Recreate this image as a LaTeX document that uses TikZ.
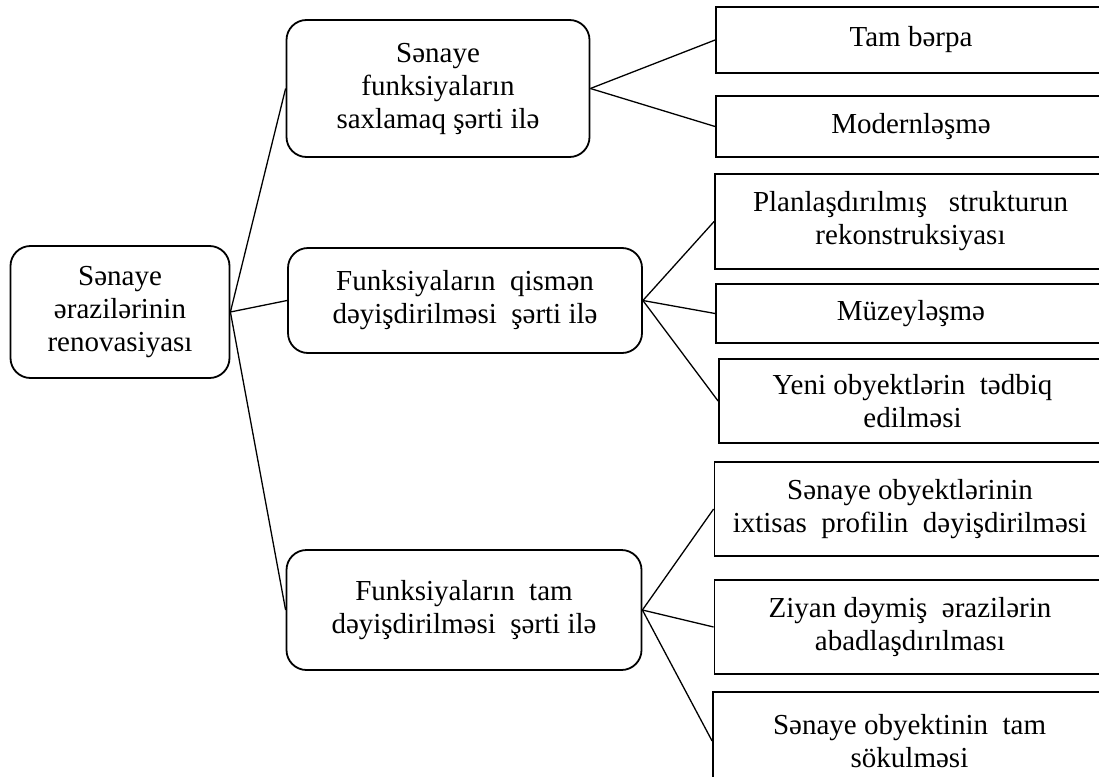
\documentclass[tikz,border=0pt]{standalone}
\usepackage{fontspec}
\setmainfont{Liberation Serif}

\tikzset{
  every node/.style={font=\fontsize{29}{33}\selectfont, align=center, inner sep=0pt},
  boxsize/.style 2 args={minimum width=#1pt, minimum height=#2pt},
  roundbox/.style={draw, line width=1.8pt, rounded corners=20pt},
  leafbox/.style={draw, line width=1.8pt},
  link/.style={line width=1.3pt},
}

\begin{document}
\begin{tikzpicture}[x=1pt, y=-1pt]
  \useasboundingbox (0,0) rectangle (1099,776);
  \clip (0,0) rectangle (1099,776);

  % root and the three groups
  \node[roundbox, boxsize={219}{132}] (root) at (120,312) {Sənaye\\ərazilərinin\\renovasiyası};
  \node[roundbox, boxsize={303}{137}] (keep) at (438,88.5) {Sənaye\\funksiyaların\\saxlamaq şərti ilə};
  \node[roundbox, boxsize={354}{105}] (part) at (465,300.5) {Funksiyaların\ \ qismən\\dəyişdirilməsi\ \ şərti ilə};
  \node[roundbox, boxsize={355}{120}] (full) at (464,610) {Funksiyaların\ \ tam\\dəyişdirilməsi\ \ şərti ilə};

  % leaves (cut off at the right edge)
  \node[leafbox, boxsize={390}{66}] (k1) at (911,40) {Tam bərpa};
  \node[leafbox, boxsize={390}{61}] (k2) at (911,126.5) {Modernləşmə};
  \node[leafbox, boxsize={391}{95}] (p1) at (910.5,221.5) {Planlaşdırılmış\ \ \ strukturun\\rekonstruksiyası};
  \node[leafbox, boxsize={390}{59}] (p2) at (911,313.5) {Müzeyləşmə};
  \node[leafbox, boxsize={387}{84}] (p3) at (912.5,401) {Yeni obyektlərin\ \ tədbiq\\edilməsi};
  \node[leafbox, boxsize={391}{94}] (f1) at (910,509) {Sənaye obyektlərinin\\ixtisas\ \ profilin\ \ dəyişdirilməsi};
  \node[leafbox, boxsize={391}{94}] (f2) at (910,627) {Ziyan dəymiş\ \ ərazilərin\\abadlaşdırılması};
  \node[leafbox, boxsize={393}{98}] (f3) at (909.5,741) {Sənaye obyektinin\ \ tam\\sökulməsi};

  \foreach \a/\b in {root/keep, root/part, root/full,
                     keep/k1, keep/k2,
                     part/p1, part/p2, part/p3,
                     full/f1, full/f2, full/f3}
    \draw[link] (\a.east) -- (\b.west);
\end{tikzpicture}
\end{document}
